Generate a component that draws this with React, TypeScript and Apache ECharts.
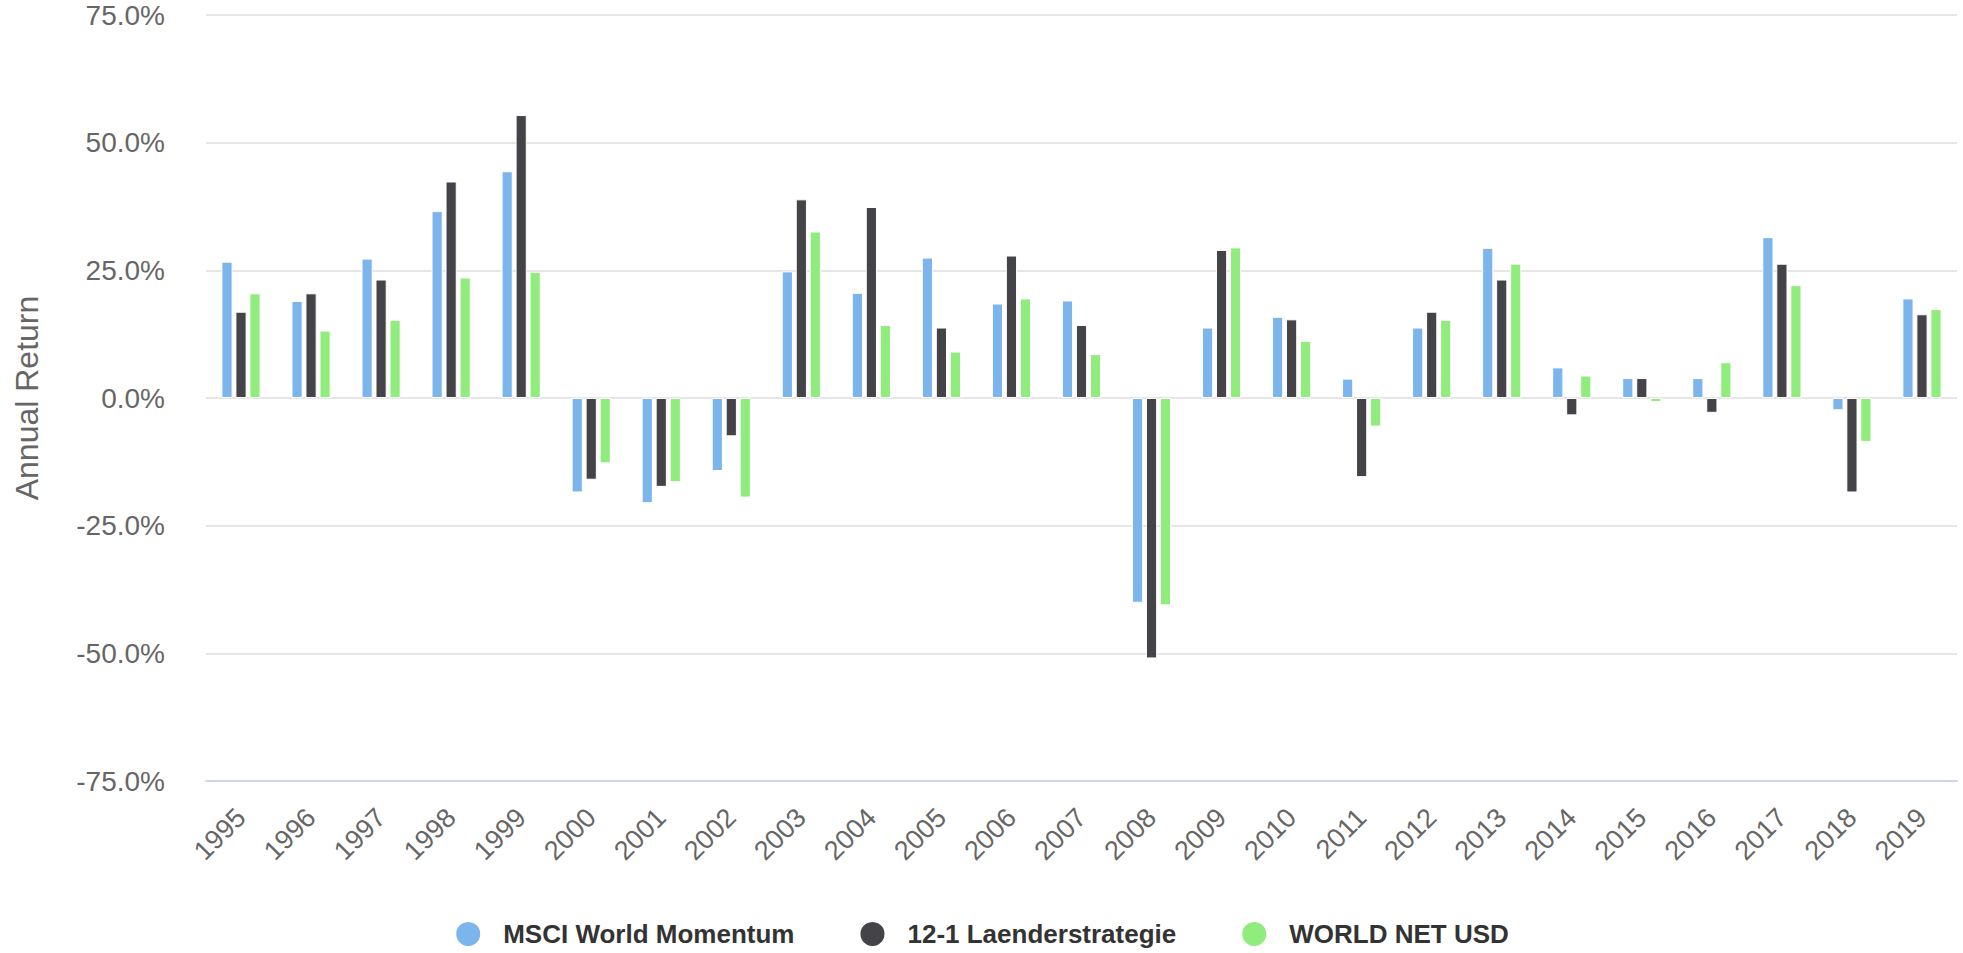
import React, { useEffect, useRef } from "react";
import * as echarts from "echarts";

const years = ["1995","1996","1997","1998","1999","2000","2001","2002","2003","2004","2005","2006","2007","2008","2009","2010","2011","2012","2013","2014","2015","2016","2017","2018","2019"];

const msciMomentum = [26.7, 19.0, 27.3, 36.6, 44.4, -18.5, -20.6, -14.3, 24.8, 20.6, 27.5, 18.5, 19.1, -40.1, 13.8, 15.9, 3.8, 13.8, 29.4, 6.0, 3.9, 3.9, 31.5, -2.4, 19.5];
const laenderStrategie = [16.9, 20.5, 23.2, 42.4, 55.4, -16.0, -17.4, -7.5, 38.9, 37.4, 13.8, 27.9, 14.3, -51.0, 29.0, 15.4, -15.5, 16.9, 23.2, -3.4, 3.9, -2.9, 26.3, -18.5, 16.4];
const worldNetUsd = [20.5, 13.2, 15.3, 23.6, 24.7, -12.8, -16.5, -19.5, 32.6, 14.3, 9.1, 19.5, 8.6, -40.6, 29.5, 11.2, -5.6, 15.3, 26.3, 4.4, -0.8, 7.0, 22.1, -8.6, 17.4];

const seriesNames = ["MSCI World Momentum", "12-1 Laenderstrategie", "WORLD NET USD"];
const seriesColors = ["#7cb5ec", "#434348", "#90ed7d"];

const FONT = "'Liberation Sans', Arial, Helvetica, sans-serif";

export default function App() {
  const ref = useRef<HTMLDivElement>(null);
  useEffect(() => {
    if (!ref.current) return;
    const chart = echarts.init(ref.current, null, { renderer: "svg" });
    const dataSets = [msciMomentum, laenderStrategie, worldNetUsd];
    chart.setOption({
      animation: false,
      backgroundColor: "#ffffff",
      textStyle: { fontFamily: FONT },
      grid: { left: 206, right: 6, top: 15, bottom: 172, containLabel: false },
      legend: {
        left: "center",
        top: 920,
        padding: 0,
        icon: "circle",
        itemWidth: 26,
        itemHeight: 26,
        itemGap: 64,
        data: seriesNames,
        textStyle: {
          fontFamily: FONT,
          fontSize: 26,
          fontWeight: "bold",
          color: "#333333",
          padding: [0, 0, 0, 17],
        },
      },
      xAxis: {
        type: "category",
        data: years,
        boundaryGap: true,
        axisTick: { show: false },
        axisLine: { onZero: false, lineStyle: { color: "#ccd6eb", width: 2 } },
        axisLabel: {
          rotate: 45,
          margin: 32,
          fontSize: 27,
          color: "#666666",
          fontFamily: FONT,
          interval: 0,
        },
        splitLine: { show: false },
      },
      yAxis: {
        type: "value",
        min: -75,
        max: 75,
        interval: 25,
        name: "Annual Return",
        nameLocation: "middle",
        nameGap: 163,
        nameTextStyle: { fontSize: 32, color: "#666666", fontFamily: FONT },
        axisLine: { show: false },
        axisTick: { show: false },
        axisLabel: {
          margin: 41,
          fontSize: 28,
          color: "#666666",
          fontFamily: FONT,
          formatter: (v: number) => v.toFixed(1) + "%",
        },
        splitLine: { lineStyle: { color: "#e6e6e6", width: 2 } },
      },
      series: seriesNames.map((name, i) => ({
        name,
        type: "bar",
        data: dataSets[i],
        barWidth: 11.2,
        barGap: "25%",
        itemStyle: { color: seriesColors[i], borderColor: "#ffffff", borderWidth: 1 },
      })),
    });
    return () => chart.dispose();
  }, []);
  return (
    <div
      ref={ref}
      style={{ position: "fixed", left: 0, top: 0, width: 1963, height: 953, background: "#fff" }}
    />
  );
}
